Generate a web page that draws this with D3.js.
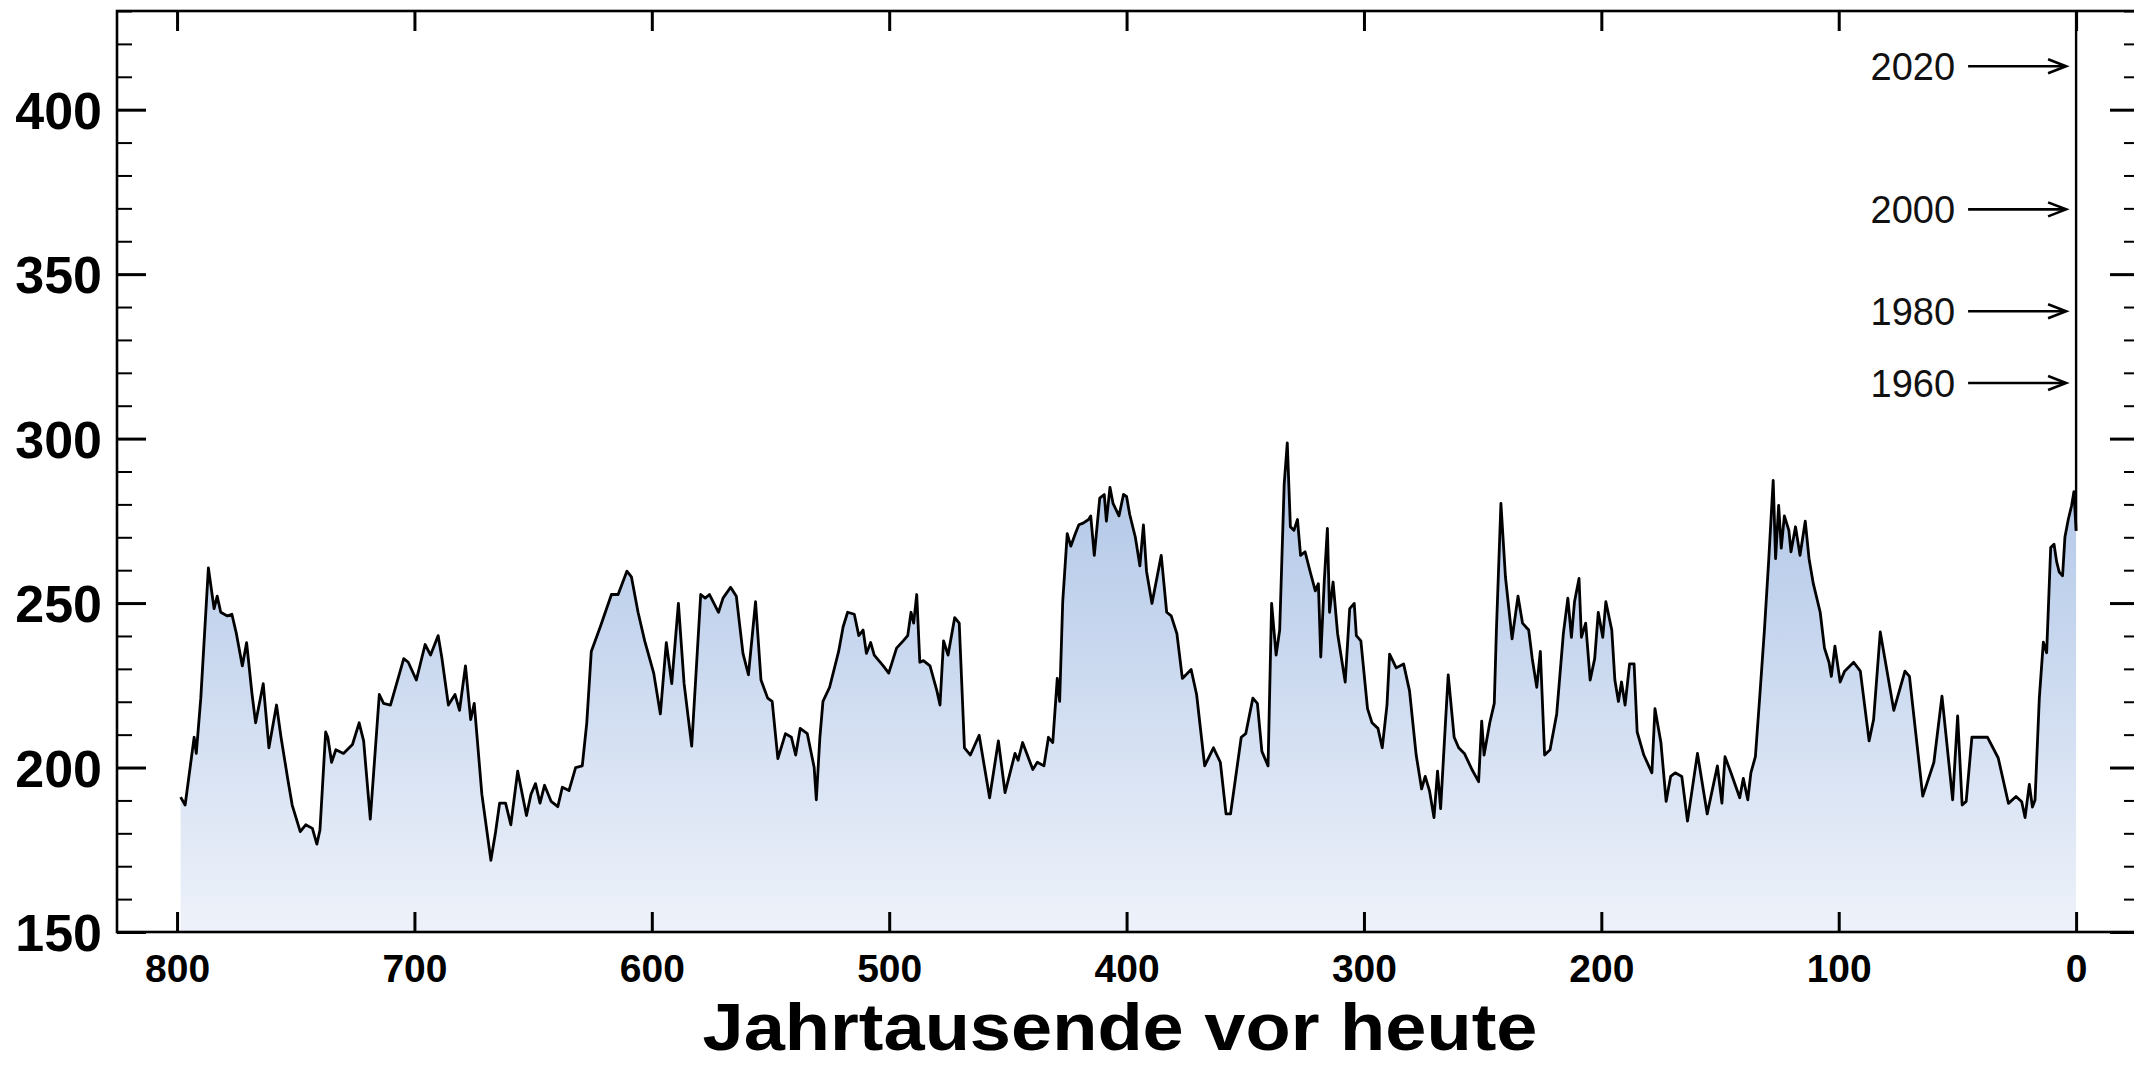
<!DOCTYPE html>
<html>
<head>
<meta charset="utf-8">
<script src="https://cdn.jsdelivr.net/npm/d3@7"></script>
<style>
  body { margin: 0; background: #fff; }
  svg { display: block; font-family: "Liberation Sans", Arial, Helvetica, sans-serif; }
</style>
</head>
<body>
<svg id="chart"></svg>
<script>
// ice core CO2 (ppm) vs. age (thousand years before present)
let iceAge = [798.5,796.6,792.8,791.9,790,786.8,784.4,783.1,781.6,778.8,776.9,775,772.5,770.7,768.4,766.9,763.7,761.3,758.1,756.2,
  753.3,751.5,748.1,745.8,743,741.1,739.8,737.4,736.5,734.9,733.1,729.9,726.1,723.3,721.4,718.6,714.8,713,710.1,704.5,
  702.6,699.2,695.5,693.2,690,688.5,685.7,682.9,681,678.5,676.3,674.8,671.6,667.8,665.9,664.1,661.6,659.4,656.5,652.8,
  650.9,649,647.1,645.2,642.4,639.6,637.7,634.9,632.1,629.3,627.4,625.5,621.7,617,614.2,610.5,608.6,605.8,603,599.2,
  596.4,593.9,591.6,588.8,586.4,583.2,579.4,577.5,575.7,571.9,570,566.8,564.4,561.6,559.3,556.3,554,551.2,549.3,546.9,
  543.7,541.2,539.4,537.5,534.5,531.6,530.7,529.2,527.9,525.1,521.3,519.4,517.5,514.7,512.8,511,509.6,507.8,506.3,502.5,
  500.2,496.9,494.1,492.2,490.8,489.7,488.4,487.1,485.6,482.8,479.9,478.6,477.1,475.2,472.4,470.5,468.3,465.8,462.1,457.7,
  454,451.2,447,445.7,443.8,439.5,437.6,434.8,432.9,431.1,429.2,428.2,426.9,425,423.5,421.6,420.1,418.3,416,415.1,
  413.6,411.3,409.4,408.5,407,405.7,403.2,401.3,400,398.7,396.3,394.4,392.9,391.6,389.3,385.4,383.1,381.2,378.8,376.5,
  372.8,370.5,367.1,363.4,360.5,358.1,356.2,351.7,349.8,346.8,344.9,343,340.4,338.9,337,335.5,333.6,332.3,331,329.5,
  328,326.7,324.8,322.9,320.5,319.2,318.2,316.7,315.4,314.5,313,311.1,307.9,306,304.1,303.2,301.3,298.5,296.6,294.1,
  292.3,290.3,289.2,286.4,283.3,280.8,278,275.7,274.2,272.4,270.5,269,267.7,265.8,264.5,262,260.1,257.7,254.5,251.7,
  250.4,249.4,247,245.1,244.2,242.3,240.4,237.6,235.1,233.2,230.6,229.1,227.2,225.7,223.9,221.6,218.8,216,214.1,212.6,
  211.3,209.4,208.4,206.6,204.7,202.8,201.3,199.4,198.1,195.6,194.3,192.8,191.5,190,188.1,186.2,184.9,182.1,178.7,177.4,
  174.9,172.7,170.8,168.9,166.1,163.7,159.5,155.4,151.1,149.2,147.9,145.4,141.7,140.2,138.3,137,135.1,133.2,131.3,129.5,
  127.6,126.6,125.3,124.2,122.9,121,120.1,118.2,116.3,114.1,112.5,110.7,107.8,106,104.1,103.1,101.6,99.4,97.5,93.7,
  90.9,87.2,85.3,82.5,76.8,72.1,70.2,64.6,59.9,56.5,52,49.9,48,46.3,43.9,37.3,32.8,28.5,25.3,22.9,
  21.5,19.7,18.4,17.3,15.5,13.8,12.4,10.7,9.3,8.2,7.1,5.7,4.7,3.3,1.9,0.9,0.3,0];
let iceCO2 = [191,188.6,209.2,204.3,221.1,260.7,248.3,252.1,247.2,246.1,246.6,240.7,230.9,238,222.2,213.6,225.5,206,219,209.2,
  196.2,188.6,180.5,182.6,181.5,176.7,181,210.8,209.2,201.6,205.4,204.3,207,213.6,208.1,184.3,222.2,219.5,219,233.1,
  232,226.6,237.4,234.2,240.1,233.6,219,222.2,217.4,230.9,214.6,219.5,191.9,171.8,180,189.2,189.2,182.6,198.9,185.4,
  191.9,195.1,189.2,194.6,189.7,188.1,194,193,200,200.5,213.6,235.3,242.8,252.6,252.6,259.7,258,247.2,238.5,228.7,
  216.3,238,225.5,249.9,225.5,206.5,252.6,251.5,252.6,247.2,251.5,254.8,252.1,234.7,228.2,250.4,226.6,221.1,220.1,202.7,
  210.3,209.2,203.8,211.9,210.3,200,190.2,209.2,220.1,224.4,235.3,242.8,247.2,246.6,240.1,241.8,234.7,238,234.2,230.9,
  228.7,236.3,238.5,240.1,247.2,243.9,252.6,232,232.5,230.9,223.3,219,238.5,234.2,245.6,243.9,206,203.8,209.8,190.8,
  208.1,192.4,204.3,202.2,207.6,199.4,201.6,200.5,209.2,207.6,227.1,220.1,250.4,271.1,267.3,271.1,273.8,274.3,275.4,276.5,
  264.5,281.9,283,274.9,285.2,280.3,276.5,283,282.4,277,270,261.3,273.8,259.7,249.9,264.5,247.2,246.1,240.7,227.1,
  229.8,222.2,200.5,206,201.6,185.9,185.9,209.2,210.3,221.1,219.5,204.9,200.5,249.9,234.2,241.8,286.2,298.7,273.2,272.1,
  275.4,264.5,265.6,260.2,253.7,255.9,233.6,256.9,272.7,247.2,256.4,240.7,226,248.3,249.9,240.1,238.5,217.9,213.6,211.9,
  206,219,234.5,230.3,231.5,223.3,203.8,193.5,197.3,193,184.8,198.9,187.5,211.9,228.2,209.2,206,204.3,199.4,195.7,
  214.1,203.8,213.6,219.5,241.8,280.3,258,239.1,252.1,243.9,241.8,233.1,224.4,235.3,203.8,205.4,216.3,240.7,251.5,239.6,
  250.4,257.5,239.6,243.9,226.6,233.1,247.2,239.6,250.4,241.8,226.6,220.1,226,219,231.5,231.5,210.8,203.8,198.4,217.9,
  207.6,189.7,197.3,198.4,197.3,183.7,204.3,185.9,200.5,189.2,203.3,198.4,190.8,196.7,190.2,198.4,203.3,222.2,241.8,262.9,
  287.3,263.5,279.7,266.7,276.5,272.1,265.6,273.2,264.5,274.9,263.5,255.9,247.2,236.3,232,227.7,236.9,226,229.3,232,
  229.3,208.1,214.6,241.2,217.4,229.3,227.7,191.3,201.6,221.7,190.2,215.7,188.6,189.7,209.2,209.2,202.9,189.1,191.2,189.6,
  184.8,194.9,188,190.1,221,238.1,234.9,266.9,267.9,262.6,259.4,258.3,270.1,275.4,279.6,283.9,276,272];

// modern measurements, plotted at age 0
let modernYears = [1960, 1980, 2000, 2020];
let modernCO2 = [316.9, 338.7, 369.7, 413.2];

let xTicks = [800, 700, 600, 500, 400, 300, 200, 100, 0];
let yTicks = [150, 200, 250, 300, 350, 400];
let xTitle = "Jahrtausende vor heute";

const width = 2134;
const height = 1065;

let plotBox = { left: 117, right: 2139, top: 11, bottom: 932 };

let svg = d3.select("svg#chart")
  .attr("width", width)
  .attr("height", height);

let xScale = d3.scaleLinear()
  .domain([825.3, -26.5])
  .range([plotBox.left, plotBox.right]);

let yScale = d3.scaleLinear()
  .domain([150, 430])
  .range([plotBox.bottom, plotBox.top]);

let data = iceAge.map((a, i) => ({ age: a, co2: iceCO2[i] }));

// gradient fill under the curve
let grad = svg.append("defs").append("linearGradient")
  .attr("id", "fillGrad")
  .attr("gradientUnits", "userSpaceOnUse")
  .attr("x1", 0).attr("x2", 0)
  .attr("y1", yScale(300)).attr("y2", yScale(150));
grad.append("stop").attr("offset", "0%").attr("stop-color", "#adc4e6");
grad.append("stop").attr("offset", "100%").attr("stop-color", "#eef2fa");

let area = d3.area()
  .x(d => xScale(d.age))
  .y0(yScale(150))
  .y1(d => yScale(d.co2));

let line = d3.line()
  .x(d => xScale(d.age))
  .y(d => yScale(d.co2));

let plot = svg.append("g").attr("id", "plot");

plot.append("path")
  .datum(data)
  .attr("d", area)
  .attr("fill", "url(#fillGrad)");

plot.append("path")
  .datum(data)
  .attr("d", line)
  .attr("fill", "none")
  .attr("stroke", "#000")
  .attr("stroke-width", 2.8)
  .attr("stroke-linejoin", "round");

// modern rise: vertical line at age 0 running up to the frame
let last = data[data.length - 1];
plot.append("line")
  .attr("x1", xScale(0)).attr("x2", xScale(0))
  .attr("y1", yScale(last.co2))
  .attr("y2", yScale.range()[1])
  .attr("stroke", "#000")
  .attr("stroke-width", 2.4);

// axes
function styleAxis(g, w) {
  g.select(".domain").remove();
  g.selectAll(".tick line").attr("stroke", "#000").attr("stroke-width", w);
}

let minorY = d3.range(150, 431, 10).filter(v => v % 50 != 0);

let xBottom = svg.append("g")
  .attr("transform", "translate(0," + plotBox.bottom + ")")
  .call(d3.axisBottom(xScale).tickValues(xTicks).tickFormat(d3.format("d"))
    .tickSizeInner(-20).tickSizeOuter(0).tickPadding(22));
styleAxis(xBottom, 3);
xBottom.selectAll("text")
  .attr("fill", "#000")
  .attr("font-size", 39)
  .attr("font-weight", "bold");

let xTop = svg.append("g")
  .attr("transform", "translate(0," + plotBox.top + ")")
  .call(d3.axisTop(xScale).tickValues(xTicks).tickFormat("")
    .tickSizeInner(-20).tickSizeOuter(0));
styleAxis(xTop, 3);

let yLeft = svg.append("g")
  .attr("transform", "translate(" + plotBox.left + ",0)")
  .call(d3.axisLeft(yScale).tickValues(yTicks).tickFormat(d3.format("d"))
    .tickSizeInner(-29).tickSizeOuter(0).tickPadding(15));
styleAxis(yLeft, 3);
yLeft.selectAll("text")
  .attr("fill", "#000")
  .attr("font-size", 52)
  .attr("font-weight", "bold")
  .attr("dy", "0.36em");

let yLeftMinor = svg.append("g")
  .attr("transform", "translate(" + plotBox.left + ",0)")
  .call(d3.axisLeft(yScale).tickValues(minorY).tickFormat("")
    .tickSizeInner(-15).tickSizeOuter(0));
styleAxis(yLeftMinor, 2);

let yRight = svg.append("g")
  .attr("transform", "translate(" + plotBox.right + ",0)")
  .call(d3.axisRight(yScale).tickValues(yTicks).tickFormat("")
    .tickSizeInner(-29).tickSizeOuter(0));
styleAxis(yRight, 3);

let yRightMinor = svg.append("g")
  .attr("transform", "translate(" + plotBox.right + ",0)")
  .call(d3.axisRight(yScale).tickValues(minorY).tickFormat("")
    .tickSizeInner(-15).tickSizeOuter(0));
styleAxis(yRightMinor, 2);

// frame
svg.append("rect")
  .attr("x", plotBox.left)
  .attr("y", plotBox.top)
  .attr("width", plotBox.right - plotBox.left)
  .attr("height", plotBox.bottom - plotBox.top)
  .attr("fill", "none")
  .attr("stroke", "#000")
  .attr("stroke-width", 2.6);

// year annotations with arrows
let x0 = xScale(0);
let notes = svg.append("g").attr("id", "notes");
modernYears.forEach(function(yr, i) {
  let y = yScale(modernCO2[i]);
  notes.append("text")
    .attr("x", x0 - 121)
    .attr("y", y)
    .attr("dy", "0.36em")
    .attr("text-anchor", "end")
    .attr("font-size", 38)
    .attr("fill", "#111")
    .text(yr);
  notes.append("line")
    .attr("x1", x0 - 108).attr("x2", x0 - 11)
    .attr("y1", y).attr("y2", y)
    .attr("stroke", "#000").attr("stroke-width", 2.6);
  notes.append("path")
    .attr("d", "M" + (x0 - 28) + "," + (y - 7) + "L" + (x0 - 10) + "," + y + "L" + (x0 - 28) + "," + (y + 7))
    .attr("fill", "none")
    .attr("stroke", "#000")
    .attr("stroke-width", 2.6)
    .attr("stroke-linejoin", "miter");
});

// x axis title
svg.append("text")
  .attr("x", 1120)
  .attr("y", 1050)
  .attr("text-anchor", "middle")
  .attr("font-size", 66)
  .attr("font-weight", "bold")
  .attr("textLength", 835)
  .attr("lengthAdjust", "spacingAndGlyphs")
  .attr("fill", "#000")
  .text(xTitle);
</script>
</body>
</html>
